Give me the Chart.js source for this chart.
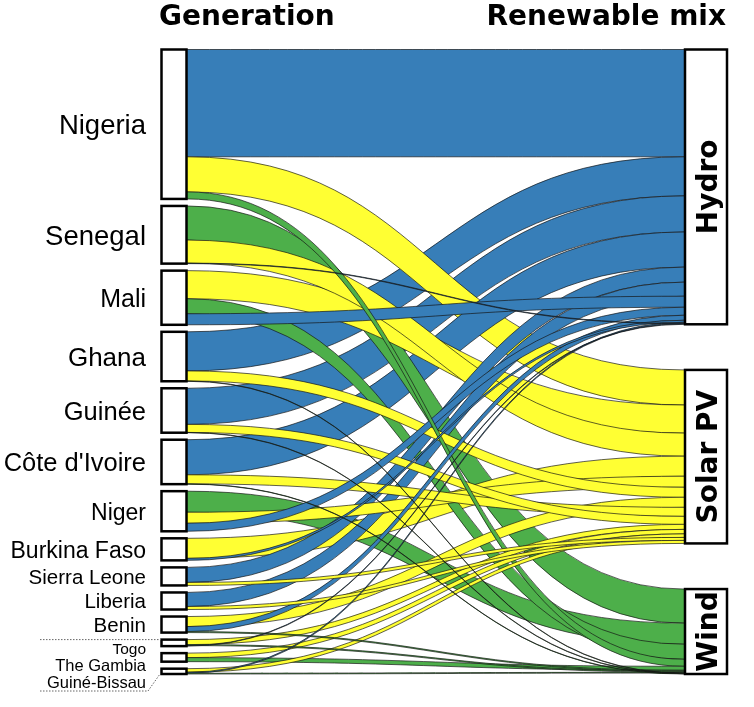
<!DOCTYPE html>
<html>
<head>
<meta charset="utf-8">
<script src="https://cdn.jsdelivr.net/npm/chart.js@4.4.1/dist/chart.umd.min.js"></script>
<style>
  html, body { margin: 0; padding: 0; background: #fff; }
  #wrap { width: 754px; height: 707px; }
</style>
</head>
<body>
<div id="wrap"><canvas id="sankey"></canvas></div>
<script>
// Generating countries, left column (largest first)
const countries = ["Nigeria", "Senegal", "Mali", "Ghana", "Guinée", "Côte d'Ivoire", "Niger",
  "Burkina Faso", "Sierra Leone", "Liberia", "Benin", "Togo", "The Gambia", "Guiné-Bissau"];
// Renewable sources, right column
const mix = ["Hydro", "Solar PV", "Wind"];
// Flow from each country into each source (same order as countries)
const hydro = [107, 0.5, 11, 39, 36, 35, 8, 2, 15, 14, 5, 0.5, 0, 1];
const solar = [35, 23, 28, 10, 8, 9, 11, 20, 3, 3, 10, 5, 4.5, 3.5];
const wind  = [7, 34, 15, 0.3, 0.3, 0.3, 21, 0, 0, 0, 1, 1, 4, 0.8];
const titles = ["Generation", "Renewable mix"];

// styling
const mixColors = ["#377EB8", "#FFFF33", "#4DAF4A"];
const labelSize = [27.5, 27.5, 25, 26, 25.5, 25.5, 23, 23, 20.5, 20.5, 20.5, 15.5, 16.5, 16.5];
const smallFrom = 11; // Togo and below get stacked labels

// build links and stack them on both sides
const flows = [hydro, solar, wind];
let links = [];
countries.forEach((c, i) => {
  mix.forEach((m, j) => {
    if (flows[j][i] > 0) links.push({ src: i, tgt: j, value: flows[j][i] });
  });
});
const total = links.reduce((a, l) => a + l.value, 0);
const gapL = 7;
const span = total + gapL * (countries.length - 1);
const gapR = (span - total) / (mix.length - 1);

let leftNodes = [], rightNodes = [];
let pos = 0;
countries.forEach((c, i) => {
  let ls = links.filter(l => l.src === i);
  let sum = ls.reduce((a, l) => a + l.value, 0);
  leftNodes.push({ y0: pos, y1: pos + sum });
  let p = pos;
  ls.slice().sort((a, b) => b.value - a.value).forEach(l => { l.sy0 = p; p += l.value; l.sy1 = p; });
  pos += sum + gapL;
});
pos = 0;
mix.forEach((m, j) => {
  let ls = links.filter(l => l.tgt === j);
  let sum = ls.reduce((a, l) => a + l.value, 0);
  rightNodes.push({ y0: pos, y1: pos + sum });
  let p = pos;
  ls.slice().sort((a, b) => b.value - a.value).forEach(l => { l.ty0 = p; p += l.value; l.ty1 = p; });
  pos += sum + gapR;
});

// big flows first so the thin ones stay visible on top
const drawLinks = links.slice().sort((a, b) => b.value - a.value);

const sankeyPlugin = {
  id: "sankey",
  beforeDatasetsDraw(chart) {
    const ctx = chart.ctx, x = chart.scales.x, y = chart.scales.y;
    const x0 = x.getPixelForValue(0), x1 = x.getPixelForValue(1), xm = (x0 + x1) / 2;
    ctx.save();
    drawLinks.forEach(l => {
      const a0 = y.getPixelForValue(l.sy0), a1 = y.getPixelForValue(l.sy1);
      const b0 = y.getPixelForValue(l.ty0), b1 = y.getPixelForValue(l.ty1);
      ctx.beginPath();
      ctx.moveTo(x0, a0);
      ctx.bezierCurveTo(xm, a0, xm, b0, x1, b0);
      ctx.lineTo(x1, b1);
      ctx.bezierCurveTo(xm, b1, xm, a1, x0, a1);
      ctx.closePath();
      ctx.fillStyle = mixColors[l.tgt];
      ctx.fill();
      ctx.strokeStyle = "rgba(20,20,20,0.85)";
      ctx.lineWidth = 0.8;
      ctx.beginPath();
      ctx.moveTo(x0, a0);
      ctx.bezierCurveTo(xm, a0, xm, b0, x1, b0);
      ctx.moveTo(x0, a1);
      ctx.bezierCurveTo(xm, a1, xm, b1, x1, b1);
      ctx.stroke();
    });
    ctx.restore();
  },
  afterDatasetsDraw(chart) {
    const ctx = chart.ctx, x = chart.scales.x, y = chart.scales.y;
    const x0 = x.getPixelForValue(0), x1 = x.getPixelForValue(1);
    ctx.save();
    ctx.lineWidth = 2.5;
    ctx.strokeStyle = "#000";
    ctx.fillStyle = "#fff";
    // left boxes
    leftNodes.forEach(n => {
      const t = y.getPixelForValue(n.y0), b = y.getPixelForValue(n.y1);
      ctx.fillRect(x0 - 25.5, t, 25, b - t);
      ctx.strokeRect(x0 - 25.5, t, 25, b - t);
    });
    // right boxes
    rightNodes.forEach(n => {
      const t = y.getPixelForValue(n.y0), b = y.getPixelForValue(n.y1);
      ctx.fillRect(x1 + 1, t, 42, b - t);
      ctx.strokeRect(x1 + 1, t, 42, b - t);
    });

    // country labels
    ctx.fillStyle = "#000";
    ctx.textAlign = "right";
    ctx.textBaseline = "alphabetic";
    const smallTop = y.getPixelForValue(leftNodes[smallFrom].y0);
    countries.forEach((c, i) => {
      const n = leftNodes[i];
      let cy = (y.getPixelForValue(n.y0) + y.getPixelForValue(n.y1)) / 2;
      if (i >= smallFrom) cy = smallTop + 9 + (i - smallFrom) * 16.5;
      ctx.font = labelSize[i] + 'px "Liberation Sans", Arial, sans-serif';
      ctx.fillText(c, 146, cy + 0.36 * labelSize[i]);
    });

    // dotted leader for the small countries
    const lastBottom = y.getPixelForValue(leftNodes[countries.length - 1].y1);
    ctx.strokeStyle = "#666";
    ctx.lineWidth = 1;
    ctx.setLineDash([1.5, 1.5]);
    ctx.beginPath();
    ctx.moveTo(40, smallTop);
    ctx.lineTo(x0 - 26, smallTop);
    ctx.moveTo(40, lastBottom + 17);
    ctx.lineTo(148, lastBottom + 17);
    ctx.lineTo(x0 - 27, lastBottom);
    ctx.stroke();
    ctx.setLineDash([]);

    // source labels, rotated inside the boxes
    ctx.font = 'bold 28px "DejaVu Sans", sans-serif';
    ctx.textAlign = "center";
    mix.forEach((m, j) => {
      const n = rightNodes[j];
      const cy = (y.getPixelForValue(n.y0) + y.getPixelForValue(n.y1)) / 2;
      ctx.save();
      ctx.translate(x1 + 22, cy);
      ctx.rotate(-Math.PI / 2);
      ctx.fillText(m, 0, 11);
      ctx.restore();
    });

    // column titles
    ctx.textAlign = "left";
    ctx.fillText(titles[0], 159, 25);
    ctx.textAlign = "right";
    ctx.fillText(titles[1], 726, 25);
    ctx.restore();
  }
};

new Chart(document.getElementById("sankey"), {
  type: "scatter",
  data: { datasets: [] },
  options: {
    responsive: true,
    maintainAspectRatio: false,
    animation: false,
    layout: { padding: { left: 187, right: 70, top: 49.5, bottom: 33 } },
    plugins: { legend: { display: false }, tooltip: { enabled: false } },
    scales: {
      x: { type: "linear", display: false, min: 0, max: 1 },
      y: { type: "linear", display: false, min: 0, max: span, reverse: true }
    }
  },
  plugins: [sankeyPlugin]
});
</script>
</body>
</html>
